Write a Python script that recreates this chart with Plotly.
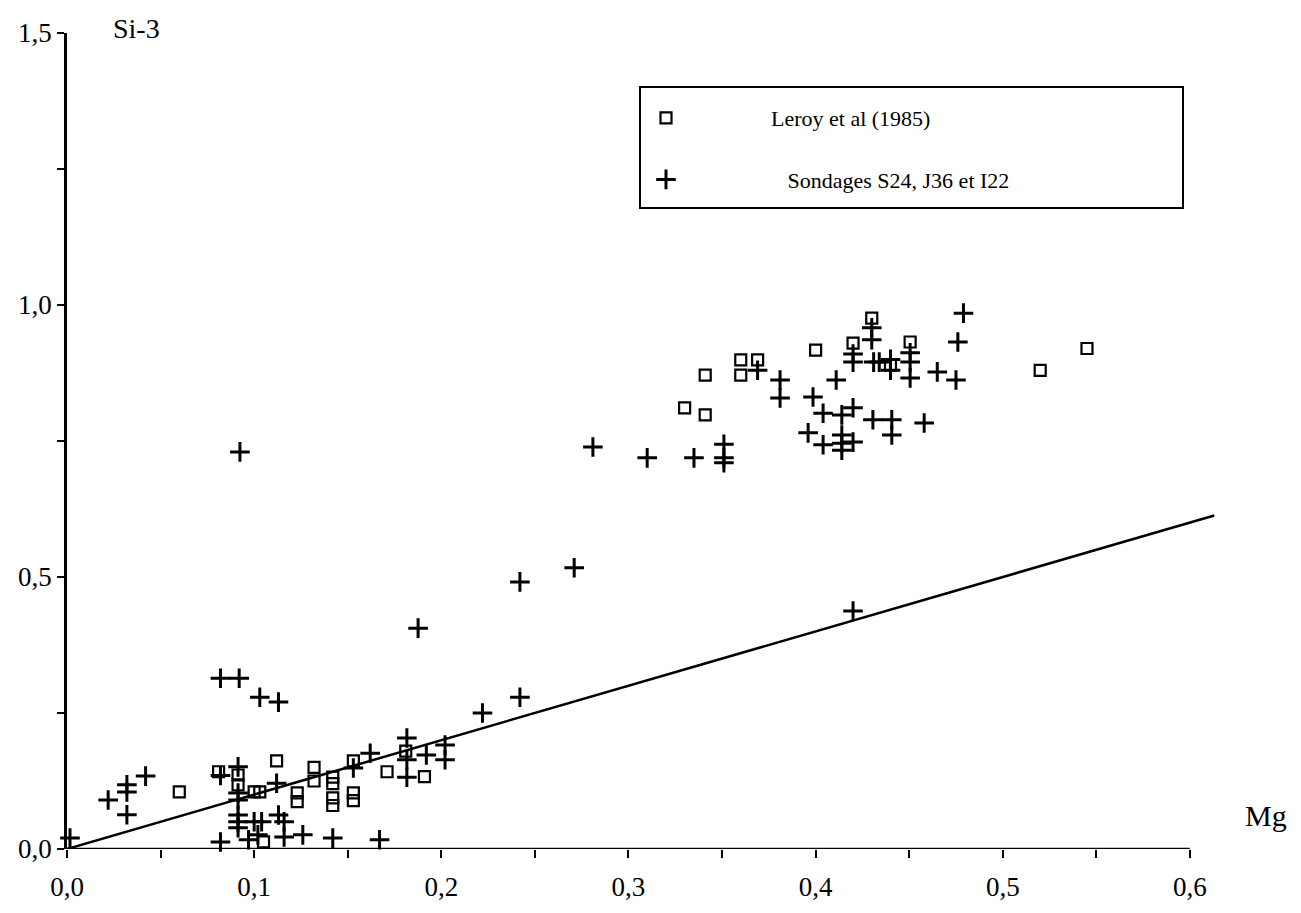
import plotly.graph_objects as go

# Leroy et al (1985) - squares
leroy_mg = [0.060, 0.081, 0.0914, 0.0914, 0.100, 0.103, 0.105, 0.112, 0.123, 0.123,
            0.132, 0.132, 0.142, 0.142, 0.142, 0.142, 0.153, 0.153, 0.153, 0.171,
            0.181, 0.191,
            0.330, 0.341, 0.341, 0.360, 0.360, 0.369, 0.400, 0.420, 0.430, 0.440,
            0.4505, 0.520, 0.545]
leroy_si = [0.105, 0.142, 0.136, 0.118, 0.105, 0.105, 0.013, 0.162, 0.103, 0.087,
            0.150, 0.125, 0.132, 0.120, 0.094, 0.080, 0.162, 0.103, 0.089, 0.142,
            0.180, 0.133,
            0.811, 0.798, 0.871, 0.899, 0.871, 0.899, 0.917, 0.930, 0.976, 0.890,
            0.932, 0.880, 0.920]

# Sondages S24, J36 et I22 - crosses
sond_mg = [0.0016, 0.022, 0.032, 0.032, 0.032, 0.042, 0.082, 0.092, 0.082, 0.082,
           0.0914, 0.0914, 0.0914, 0.0914, 0.0914, 0.0914, 0.0924, 0.097, 0.100, 0.102,
           0.103, 0.104, 0.112, 0.113, 0.113, 0.116, 0.116, 0.126, 0.142, 0.153,
           0.162, 0.167, 0.1816, 0.1816, 0.1816, 0.1876, 0.192, 0.202, 0.202, 0.222,
           0.242, 0.242, 0.271, 0.281, 0.310, 0.335, 0.351, 0.351, 0.351, 0.369,
           0.381, 0.381, 0.396, 0.3986, 0.404, 0.404, 0.411, 0.414, 0.414, 0.414,
           0.414, 0.420, 0.420, 0.420, 0.420, 0.420, 0.430, 0.430, 0.431, 0.4306,
           0.434, 0.440, 0.440, 0.4407, 0.4407, 0.4505, 0.4505, 0.4505, 0.458, 0.465,
           0.475, 0.476, 0.479]
sond_si = [0.020, 0.090, 0.118, 0.105, 0.063, 0.134, 0.314, 0.314, 0.135, 0.013,
           0.151, 0.103, 0.090, 0.0625, 0.050, 0.039, 0.730, 0.017, 0.050, 0.026,
           0.279, 0.050, 0.121, 0.270, 0.0625, 0.050, 0.022, 0.026, 0.020, 0.149,
           0.176, 0.017, 0.204, 0.164, 0.132, 0.406, 0.173, 0.191, 0.164, 0.250,
           0.279, 0.491, 0.517, 0.739, 0.719, 0.719, 0.744, 0.719, 0.710, 0.880,
           0.862, 0.829, 0.765, 0.831, 0.801, 0.743, 0.862, 0.798, 0.761, 0.746,
           0.733, 0.811, 0.748, 0.910, 0.895, 0.4375, 0.958, 0.936, 0.895, 0.789,
           0.895, 0.900, 0.880, 0.789, 0.761, 0.912, 0.895, 0.866, 0.783, 0.877,
           0.862, 0.932, 0.985]

# 1:1 reference line
line_mg = [0.0, 0.613]
line_si = [0.0, 0.613]

x_tickvals = [0.0, 0.05, 0.1, 0.15, 0.2, 0.25, 0.3, 0.35, 0.4, 0.45, 0.5, 0.55, 0.6]
x_ticktext = ["0,0", "", "0,1", "", "0,2", "", "0,3", "", "0,4", "", "0,5", "", "0,6"]
y_tickvals = [0.0, 0.25, 0.5, 0.75, 1.0, 1.25, 1.5]
y_ticktext = ["0,0", "", "0,5", "", "1,0", "", "1,5"]

FONT = "Liberation Serif, DejaVu Serif, serif"

# page body has an 8 px margin; figure sized to fit inside the window
W, H = 1285, 897
L, T = 59, 25
PW, PH = 1151, 816


def px_x(sx):  # screen x -> paper x
    return (sx - 67) / PW


def px_y(sy):  # screen y -> paper y
    return (849 - sy) / PH


fig = go.Figure()
fig.add_trace(go.Scatter(x=line_mg, y=line_si, mode="lines",
                         line=dict(color="black", width=2.5),
                         showlegend=False, hoverinfo="skip"))
fig.add_trace(go.Scatter(x=leroy_mg, y=leroy_si, mode="markers",
                         name="Leroy et al (1985)",
                         marker=dict(symbol="square-open", size=11,
                                     color="black", line=dict(width=2.2)),
                         cliponaxis=False, legendgroup="a"))
fig.add_trace(go.Scatter(x=sond_mg, y=sond_si, mode="markers",
                         name="   Sondages S24, J36 et I22",
                         marker=dict(symbol="cross-thin", size=14,
                                     color="black", line=dict(width=3, color="black")),
                         cliponaxis=False, legendgroup="b"))

fig.update_layout(
    width=W, height=H,
    margin=dict(l=L, r=W - L - PW, t=T, b=H - T - PH),
    paper_bgcolor="white", plot_bgcolor="white",
    font=dict(family=FONT, size=24, color="black"),
    xaxis=dict(range=[0, 0.615], showgrid=False, zeroline=False, showline=False,
               automargin=False,
               tickvals=x_tickvals, ticktext=x_ticktext, ticks="outside",
               ticklen=8, tickwidth=2, tickcolor="black", ticklabelstandoff=6,
               tickfont=dict(size=27)),
    yaxis=dict(range=[0, 1.5], showgrid=False, zeroline=False, showline=True,
               automargin=False,
               linecolor="black", linewidth=2.5,
               tickvals=y_tickvals, ticktext=y_ticktext, ticks="outside",
               ticklen=7, tickwidth=2, tickcolor="black", ticklabelstandoff=0,
               tickfont=dict(size=27)),
    legend=dict(x=px_x(561), y=px_y(97), xanchor="left", yanchor="top",
                bgcolor="rgba(0,0,0,0)", borderwidth=0,
                font=dict(family=FONT, size=22), itemwidth=200,
                tracegroupgap=30),
    shapes=[
        dict(type="line", xref="x", yref="y", x0=0, x1=0.6, y0=0, y1=0,
             line=dict(color="black", width=2.5)),
        dict(type="rect", xref="paper", yref="paper",
             x0=px_x(640), x1=px_x(1183), y0=px_y(208), y1=px_y(87),
             line=dict(color="black", width=2)),
    ],
    annotations=[
        dict(text="Si-3", xref="paper", yref="paper", x=px_x(111),
             y=px_y(28), xanchor="left", yanchor="middle", showarrow=False,
             font=dict(family=FONT, size=28)),
        dict(text="Mg", xref="paper", yref="paper", x=px_x(1289),
             y=px_y(815), xanchor="right", yanchor="middle", showarrow=False,
             font=dict(family=FONT, size=30)),
    ],
)

fig.write_html("out.html")
